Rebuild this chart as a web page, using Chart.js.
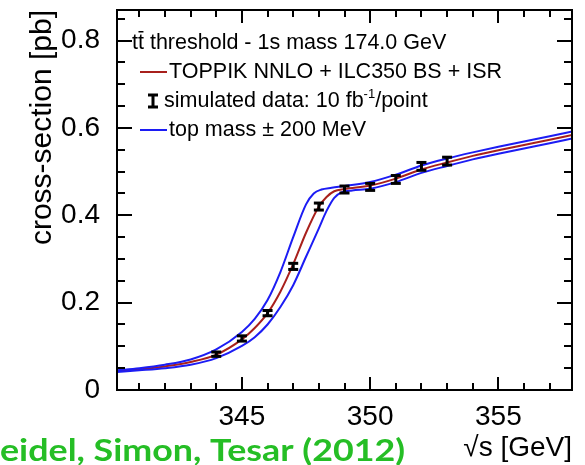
<!DOCTYPE html>
<html>
<head>
<meta charset="utf-8">
<script src="https://cdn.jsdelivr.net/npm/chart.js@4.4.1/dist/chart.umd.min.js"></script>
<style>
  html, body { margin: 0; padding: 0; background: #fff; }
</style>
</head>
<body>
<canvas id="myChart" width="585" height="465"></canvas>
<script>
var myChart;

// TOPPIK NNLO + ILC350 BS + ISR, m = 174.0 GeV
var sCentral  = [340.1, 341, 342, 343, 344, 345, 345.5, 346, 346.5, 347, 347.5, 348, 348.3, 348.6, 349, 350, 351, 352, 353, 354, 355, 356, 357, 357.9];
var xsCentral = [0.043, 0.047, 0.054, 0.064, 0.081, 0.116, 0.142, 0.176, 0.225, 0.288, 0.36, 0.42, 0.442, 0.455, 0.460, 0.468, 0.484, 0.505, 0.521, 0.536, 0.549, 0.561, 0.573, 0.584];

// top mass - 200 MeV
var sUp  = [340.1, 341, 342, 343, 344, 345, 345.5, 346, 346.5, 347, 347.5, 347.8, 348.1, 348.5, 349, 350, 351, 352, 353, 354, 355, 356, 357, 357.9];
var xsUp = [0.045, 0.050, 0.058, 0.070, 0.093, 0.133, 0.163, 0.206, 0.27, 0.35, 0.425, 0.45, 0.459, 0.463, 0.467, 0.476, 0.493, 0.514, 0.530, 0.544, 0.557, 0.569, 0.581, 0.592];

// top mass + 200 MeV
var sDown  = [340.1, 341, 342, 343, 344, 345, 345.5, 346, 346.5, 347, 347.5, 348, 348.3, 348.6, 348.9, 349.3, 350, 351, 352, 353, 354, 355, 356, 357, 357.9];
var xsDown = [0.041, 0.045, 0.050, 0.058, 0.073, 0.101, 0.121, 0.150, 0.19, 0.24, 0.305, 0.37, 0.41, 0.44, 0.453, 0.457, 0.461, 0.476, 0.497, 0.513, 0.528, 0.541, 0.553, 0.565, 0.576];

// simulated data, 10 fb-1 per point
var sData   = [344, 345, 346, 347, 348, 349, 350, 351, 352, 353];
var xsData  = [0.082, 0.118, 0.176, 0.283, 0.420, 0.459, 0.465, 0.482, 0.512, 0.524];
var errData = [0.005, 0.006, 0.006, 0.007, 0.008, 0.008, 0.008, 0.009, 0.009, 0.009];

var xTicks = [345, 350, 355];
var yTicks = [0, 0.2, 0.4, 0.6, 0.8];
// minor tick steps of the frame
var xMinor = [341, 342, 343, 344, 345, 346, 347, 348, 349, 350, 351, 352, 353, 354, 355, 356, 357];
var yMinor = [0.05, 0.1, 0.15, 0.2, 0.25, 0.3, 0.35, 0.4, 0.45, 0.5, 0.55, 0.6, 0.65, 0.7, 0.75, 0.8, 0.85];

const FONT = '"Liberation Sans", Arial, Helvetica, sans-serif';
const RED = '#a8201c';
const BLUE = '#1c1cf4';

const toXY = (xs, ys) => xs.map((x, i) => ({x: x, y: ys[i]}));

// draws an "I" shaped error bar
const drawErr = (ctx, px, yTop, yBot, capW) => {
    ctx.fillStyle = '#000';
    ctx.fillRect(px - 1.5, yTop, 3, yBot - yTop);
    ctx.fillRect(px - capW / 2, yTop - 1.5, capW, 3);
    ctx.fillRect(px - capW / 2, yBot - 1.5, capW, 3);
};

const rootFrame = {
    id: 'rootFrame',
    afterDraw(chart) {
        const ctx = chart.ctx;
        const area = chart.chartArea;
        const sx = chart.scales.x;
        const sy = chart.scales.y;
        ctx.save();

        // inner ticks, on all four sides
        ctx.fillStyle = '#000';
        xMinor.forEach((v) => {
            const px = Math.round(sx.getPixelForValue(v));
            const len = xTicks.includes(v) ? 13 : 7;
            ctx.fillRect(px - 1, area.bottom - len, 2, len);
            ctx.fillRect(px - 1, area.top, 2, len);
        });
        yMinor.forEach((v) => {
            const py = Math.round(sy.getPixelForValue(v));
            const len = yTicks.some(t => Math.abs(t - v) < 1e-6) ? 15 : 8;
            ctx.fillRect(area.left, py - 1, len, 2);
            ctx.fillRect(area.right - len, py - 1, len, 2);
        });

        // data points with errors
        sData.forEach((s, i) => {
            drawErr(ctx, sx.getPixelForValue(s),
                sy.getPixelForValue(xsData[i] + errData[i]),
                sy.getPixelForValue(xsData[i] - errData[i]), 10);
        });

        // frame
        ctx.strokeStyle = '#000';
        ctx.lineWidth = 2;
        ctx.strokeRect(area.left, area.top, area.right - area.left, area.bottom - area.top);

        // legend
        ctx.fillStyle = '#000';
        ctx.textBaseline = 'middle';
        ctx.textAlign = 'left';
        ctx.font = '21.5px ' + FONT;
        ctx.fillText('tt threshold - 1s mass 174.0 GeV', 132, 43);
        let wt = ctx.measureText('t').width;
        ctx.fillRect(132 + wt + 0.5, 31, wt - 1, 1.5);

        ctx.strokeStyle = RED;
        ctx.lineWidth = 2;
        ctx.beginPath(); ctx.moveTo(140, 72); ctx.lineTo(167, 72); ctx.stroke();
        ctx.fillText('TOPPIK NNLO + ILC350 BS + ISR', 169, 72);

        drawErr(ctx, 153, 95, 107, 10);
        let tx = 164;
        ctx.fillText('simulated data: 10 fb', tx, 101);
        tx += ctx.measureText('simulated data: 10 fb').width;
        ctx.font = '13px ' + FONT;
        ctx.fillText('-1', tx, 94);
        tx += ctx.measureText('-1').width;
        ctx.font = '21.5px ' + FONT;
        ctx.fillText('/point', tx, 101);

        ctx.strokeStyle = BLUE;
        ctx.beginPath(); ctx.moveTo(140, 130); ctx.lineTo(167, 130); ctx.stroke();
        ctx.fillText('top mass \u00b1 200 MeV', 169, 130);

        // reference label, stretched to the width it has in the source
        const lbl = 'eidel, Simon, Tesar (2012)';
        ctx.fillStyle = '#25be25';
        ctx.font = 'bold 31px Lato, "Open Sans", sans-serif';
        ctx.textBaseline = 'alphabetic';
        const w = ctx.measureText(lbl).width;
        ctx.translate(0, 461);
        ctx.scale(405 / w, 1);
        ctx.fillText(lbl, 0, 0);

        ctx.restore();
    }
};

window.addEventListener('DOMContentLoaded', (event) => {
    let info = {
        datasets: [
            {
                label: 'top mass + 200 MeV',
                data: toXY(sDown, xsDown),
                borderColor: BLUE,
                borderWidth: 2,
                pointRadius: 0,
                cubicInterpolationMode: 'monotone'
            },
            {
                label: 'top mass - 200 MeV',
                data: toXY(sUp, xsUp),
                borderColor: BLUE,
                borderWidth: 2,
                pointRadius: 0,
                cubicInterpolationMode: 'monotone'
            },
            {
                label: 'TOPPIK NNLO + ILC350 BS + ISR',
                data: toXY(sCentral, xsCentral),
                borderColor: RED,
                borderWidth: 2,
                pointRadius: 0,
                cubicInterpolationMode: 'monotone'
            }
        ]
    };

    let config = {
        type: 'line',
        data: info,
        plugins: [rootFrame],
        options: {
            responsive: false,
            animation: false,
            devicePixelRatio: 1,
            layout: { padding: { left: 0, right: 13, top: 10, bottom: 0 } },
            plugins: { legend: { display: false }, tooltip: { enabled: false } },
            scales: {
                x: {
                    type: 'linear',
                    min: 340.13,
                    max: 357.87,
                    afterBuildTicks: (s) => { s.ticks = xTicks.map(v => ({value: v})); },
                    afterFit: (s) => { s.height = 75; s.paddingLeft = 0; s.paddingRight = 0; },
                    grid: { display: false },
                    border: { display: false },
                    ticks: {
                        color: '#000',
                        font: { family: FONT, size: 28 },
                        padding: 2,
                        maxRotation: 0,
                        autoSkip: false
                    },
                    title: {
                        display: true,
                        text: '\u221as [GeV]',
                        align: 'end',
                        color: '#000',
                        font: { family: FONT, size: 28 },
                        padding: { top: 2, bottom: 0 }
                    }
                },
                y: {
                    min: 0,
                    max: 0.87,
                    afterBuildTicks: (s) => { s.ticks = yTicks.map(v => ({value: v})); },
                    afterFit: (s) => { s.width = 117; s.paddingTop = 0; s.paddingBottom = 0; },
                    grid: { display: false },
                    border: { display: false },
                    ticks: {
                        color: '#000',
                        font: { family: FONT, size: 28 },
                        padding: 9,
                        callback: (v) => v === 0 ? '0' : v.toFixed(1)
                    },
                    title: {
                        display: true,
                        text: 'cross-section [pb]',
                        align: 'end',
                        color: '#000',
                        font: { family: FONT, size: 30 },
                        padding: { top: 25, bottom: 0 }
                    }
                }
            }
        }
    };

    myChart = new Chart(document.getElementById('myChart'), config);
});
</script>
</body>
</html>
